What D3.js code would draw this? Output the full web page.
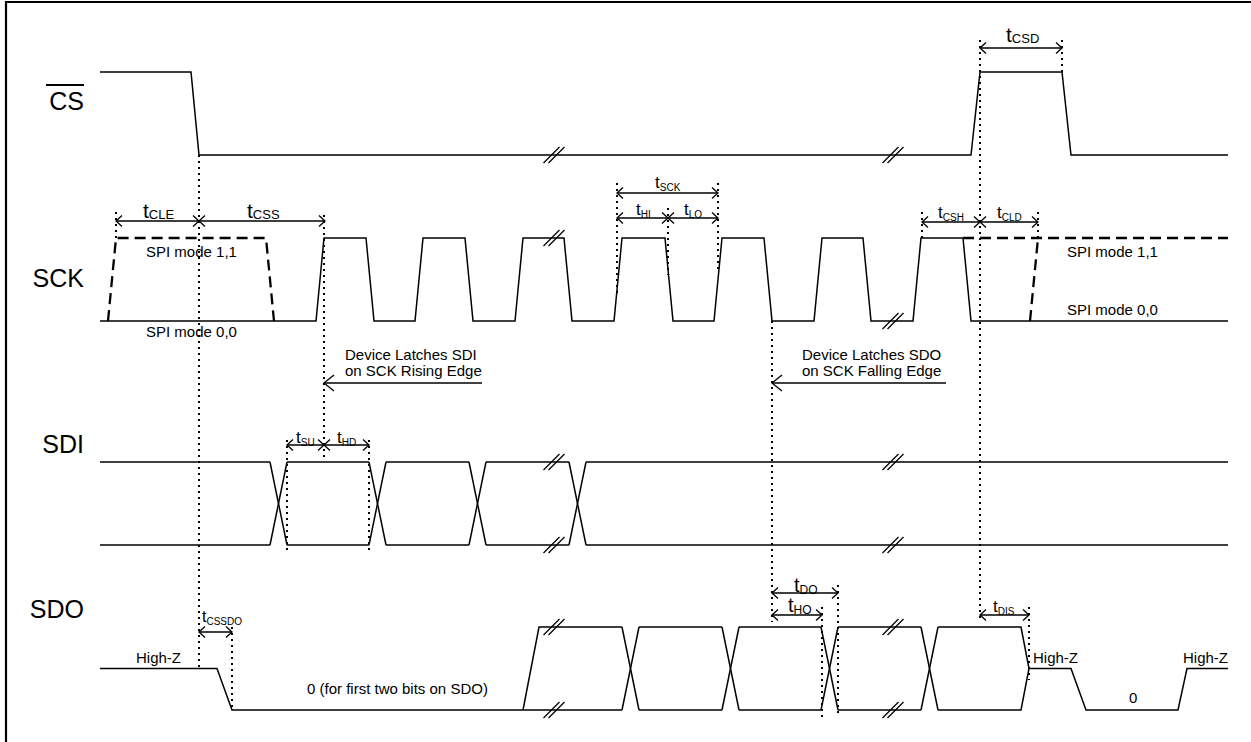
<!DOCTYPE html>
<html><head><meta charset="utf-8">
<script src="https://cdn.jsdelivr.net/npm/d3@7"></script>
<style>body{margin:0;background:#fff} svg{display:block;font-family:"Liberation Sans",Arial,sans-serif}</style>
</head><body>
<svg id="c" width="1251" height="742"></svg>
<script>
// ---------------- data (time units along the diagram) ----------------
const signalNames = ["CS", "SCK", "SDI", "SDO"];
const edgeTime = 8;
const crossTime = 17;
const csWave = [[0,1],[91,1],[99,0],[871,0],[880,1],[962,1],[971,0],[1128,0]];
const sckRises = [216,315,415,514,614,714,813];
const sckFalls = [266,365,464,565,664,763,863];
const sckMode11Left = [[8,0],[16,1],[166,1],[174,0]];
const sckMode11Right = [[863,1],[1128,1]];
const sckMode11RightEdge = [[930,0],[938,1]];
const sdiCrossings = [170,269,369,469];
const sdoCrossings = [522,622,721,821];
const sdoStart = [[0,0.5],[117,0.5],[132,0],[522,0]];
const sdoRise = [[423,0],[439,1],[522,1]];
const sdoLastCellEnd = 921;
const sdoTail = [[929,0.5],[971,0.5],[986,0],[1078,0],[1087,0.5],[1128,0.5]];
const breakTimes = [454, 793];
const breakLevels = {CS:[[0],[0]], SCK:[[1],[0]], SDI:[[1,0],[1,0]], SDO:[[1,0],[1,0]]};
// dotted guide lines: [time, yTop, yBottom]
const guides = [[16,212,238],[99,155,669],[224,215,460],[517,183,293],[568,208,275],[618,183,270],
  [672,321,622],[822,212,238],[880,40,622],[938,212,238],[962,40,72],[187,440,552],[269,440,552],
  [722,607,717],[738,585,717],[929,607,680],[132,627,710]];
// timing arrows: [from, to, y]
const timingArrows = [[16,99,221],[99,225,221],[880,962,48],[517,618,193],[517,568,218],[568,618,218],
  [822,880,222],[880,938,222],[187,224,445],[224,269,445],[99,132,632],[672,738,593],[672,722,615],[880,929,615]];
// timing labels: [subscript, x-time, baseline, size class]
const timingLabels = [["CLE",43,218,"L"],["CSS",147,218,"L"],["CSD",906,42,"L"],["SCK",555,188,"M"],
  ["HI",536,215,"M"],["LO",584,215,"M"],["CSH",838,218,"M"],["CLD",897,218,"M"],["SU",196,443,"M"],
  ["HD",237,443,"M"],["CSSDO",102,622,"S"],["DO",694,592,"B"],["HO",688,612,"B"],["DIS",893,612,"M"]];
const notes = [
  {lines:["Device Latches SDI","on SCK Rising Edge"], t:245, y:360, arrowFrom:382, arrowTo:224, arrowY:383},
  {lines:["Device Latches SDO","on SCK Falling Edge"], t:702, y:360, arrowFrom:846, arrowTo:672, arrowY:383}
];
const texts = [["SPI mode 1,1",46,257],["SPI mode 0,0",46,337],["SPI mode 1,1",967,257],["SPI mode 0,0",967,315],
  ["High-Z",36,663],["0 (for first two bits on SDO)",207,694],["High-Z",933,663],["0",1029,703],["High-Z",1083,663]];

// ---------------- scales ----------------
const svg = d3.select("#c");
const x = d3.scaleLinear().domain([0,1128]).range([100,1228]);
const yPage = d3.scaleLinear().domain([0,742]).range([0,742]);
const rowRanges = {CS:[155,72], SCK:[321,238], SDI:[545,462], SDO:[710,627]};
const labelBaselines = {CS:110, SCK:287, SDI:453, SDO:618};
const ys = {};
signalNames.forEach(s => ys[s] = d3.scaleLinear().domain([0,1]).range(rowRanges[s]));

// frame
svg.append("line").attr("x1",5).attr("x2",1251).attr("y1",2).attr("y2",2).attr("stroke","#000").attr("stroke-width",2.2);
svg.append("line").attr("x1",6).attr("x2",6).attr("y1",1).attr("y2",742).attr("stroke","#000").attr("stroke-width",2.2);

const W = svg.append("g").attr("fill","none").attr("stroke","#000").attr("stroke-width",1.5).attr("stroke-linejoin","miter");
const lineOf = s => d3.line().x(d=>x(d[0])).y(d=>ys[s](d[1]));
function wave(s, pts, cls){ return W.append("path").attr("d", lineOf(s)(pts)); }

// CS
wave("CS", csWave);
// SCK
const sckPts = [[0,0]];
sckRises.forEach((r,i)=>{ sckPts.push([r,0],[r+edgeTime,1],[sckFalls[i],1],[sckFalls[i]+edgeTime,0]); });
sckPts.push([1128,0]);
wave("SCK", sckPts);
[sckMode11Left, sckMode11Right, sckMode11RightEdge].forEach(p =>
  wave("SCK", p).attr("stroke-width",2.3).attr("stroke-dasharray","11 6"));

// bus drawing
function bus(s, start, crossings, end){
  const cells = [];
  let a = start;
  crossings.forEach(c => { cells.push([a,c]); a = c + crossTime; });
  cells.push([a,end]);
  cells.forEach(([p,q]) => { wave(s,[[p,1],[q,1]]); wave(s,[[p,0],[q,0]]); });
  crossings.forEach(c => { wave(s,[[c,1],[c+crossTime,0]]); wave(s,[[c,0],[c+crossTime,1]]); });
}
bus("SDI", 0, sdiCrossings, 1128);
wave("SDO", sdoStart);
wave("SDO", sdoRise);
(function(){
  let a = sdoCrossings[0];
  sdoCrossings.forEach((c,i) => {
    if (i>0){ wave("SDO",[[a,1],[c,1]]); wave("SDO",[[a,0],[c,0]]); }
    wave("SDO",[[c,1],[c+crossTime,0]]); wave("SDO",[[c,0],[c+crossTime,1]]);
    a = c + crossTime;
  });
  wave("SDO",[[a,1],[sdoLastCellEnd,1],[sdoTail[0][0],0.5]]);
  wave("SDO",[[a,0],[sdoLastCellEnd,0],[sdoTail[0][0],0.5]]);
  wave("SDO", sdoTail);
})();

// break marks
const B = svg.append("g").attr("stroke","#000").attr("stroke-width",1.2);
signalNames.forEach(s => breakTimes.forEach((bt,i) => breakLevels[s][i].forEach(lv => {
  const cx = x(bt), cy = ys[s](lv);
  [-2.5, 2.5].forEach(o => B.append("line").attr("x1",cx+o-8).attr("y1",cy+8).attr("x2",cx+o+8).attr("y2",cy-8));
})));

// dotted guides
const G = svg.append("g").attr("stroke","#000").attr("stroke-width",2).attr("stroke-dasharray","2 4");
guides.forEach(([t,a,b]) => G.append("line").attr("x1",x(t)).attr("x2",x(t)).attr("y1",yPage(a)).attr("y2",yPage(b)));

// arrows
const A = svg.append("g").attr("fill","none").attr("stroke","#000").attr("stroke-width",1.3);
function head(px,py,dir,len,spr){ A.append("path").attr("d",`M${px+dir*len},${py-spr}L${px},${py}L${px+dir*len},${py+spr}`); }
timingArrows.forEach(([a,b,yy]) => {
  const x1 = x(a), x2 = x(b), y = yPage(yy);
  A.append("line").attr("x1",x1).attr("x2",x2).attr("y1",y).attr("y2",y);
  head(x1,y,1,6,5.5); head(x2,y,-1,6,5.5);
});

// timing labels
const sizes = {L:[21,13,1], M:[17,10,2.5], S:[16,10,2.5], B:[20,12,2]};
const T = svg.append("g").attr("fill","#000");
timingLabels.forEach(([sub,t,yy,k]) => {
  const [fm, fs, dy] = sizes[k];
  const tx = T.append("text").attr("x",x(t)).attr("y",yPage(yy));
  tx.append("tspan").attr("font-size",fm).text("t");
  tx.append("tspan").attr("font-size",fs).attr("dy",dy).text(sub);
});

// notes
notes.forEach(n => {
  n.lines.forEach((l,i) => T.append("text").attr("x",x(n.t)).attr("y",yPage(n.y+16*i)).attr("font-size",15).text(l));
  const y = yPage(n.arrowY);
  A.append("line").attr("x1",x(n.arrowFrom)).attr("x2",x(n.arrowTo)).attr("y1",y).attr("y2",y);
  head(x(n.arrowTo),y,1,10,8);
});

// small texts
texts.forEach(([s,t,yy]) => T.append("text").attr("x",x(t)).attr("y",yPage(yy)).attr("font-size",15).text(s));

// signal names
signalNames.forEach(s => T.append("text").attr("x",84).attr("y",labelBaselines[s]).attr("text-anchor","end").attr("font-size",25).text(s));
svg.append("line").attr("x1",46).attr("x2",84).attr("y1",85).attr("y2",85).attr("stroke","#000").attr("stroke-width",2);
</script>
</body></html>
